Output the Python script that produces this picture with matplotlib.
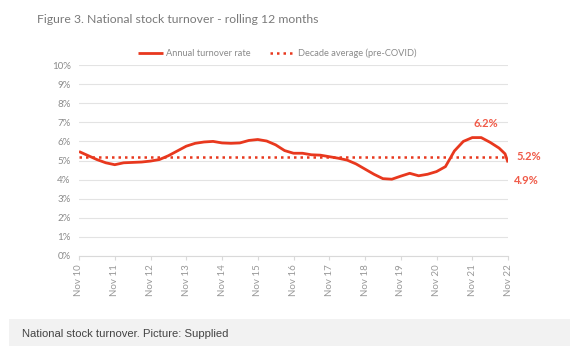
import matplotlib
matplotlib.use("Agg")
import matplotlib.pyplot as plt
from matplotlib.patches import Rectangle

# data: months since Nov 2010, rolling 12-month turnover (%)
months = [0, 3, 6, 9, 12, 15, 18, 21, 24, 27, 30, 33, 36, 39, 42, 45, 48,
          51, 54, 57, 60, 63, 66, 69, 72, 75, 78, 81, 84, 87, 90, 93, 96,
          99, 102, 105, 108, 111, 114, 117, 120, 123, 126, 129, 132, 135,
          138, 141, 143, 144]
turnover = [5.47, 5.26, 5.05, 4.88, 4.78, 4.88, 4.90, 4.92, 4.97, 5.05,
            5.25, 5.50, 5.75, 5.90, 5.97, 6.00, 5.92, 5.90, 5.92, 6.05,
            6.10, 6.02, 5.82, 5.52, 5.38, 5.38, 5.30, 5.28, 5.20, 5.12,
            5.02, 4.82, 4.55, 4.28, 4.05, 4.02, 4.18, 4.33, 4.20, 4.28,
            4.42, 4.68, 5.50, 6.00, 6.20, 6.20, 5.95, 5.65, 5.35, 4.90]
decade_avg = 5.2
tick_labels = ["Nov 10", "Nov 11", "Nov 12", "Nov 13", "Nov 14", "Nov 15",
               "Nov 16", "Nov 17", "Nov 18", "Nov 19", "Nov 20", "Nov 21",
               "Nov 22"]

RED = "#e8381e"
LABEL_RED = "#f05a48"
GREY = "#8a8a8a"

fig = plt.figure(figsize=(5.8, 3.56), dpi=100)
ax = fig.add_axes([0.1362, 0.2809, 0.7397, 0.5365])

ax.plot(months, turnover, color=RED, linewidth=2.0, label="Annual turnover rate",
        solid_capstyle="butt")
ax.plot([months[0], months[-1]], [decade_avg, decade_avg], color=RED,
        linestyle=(0, (1, 1.6)), linewidth=1.8, label="Decade average (pre-COVID)")

ax.set_xlim(0, 144)
ax.set_ylim(0, 10)
ax.set_yticks(range(0, 11))
ax.set_yticklabels([f"{v}%" for v in range(0, 11)])
ax.set_xticks(range(0, 145, 12))
ax.set_xticklabels(tick_labels, rotation=90)
ax.grid(axis="y", color="#e3e3e3", linewidth=0.8)
ax.set_axisbelow(True)
for s in ["top", "right", "left"]:
    ax.spines[s].set_visible(False)
ax.spines["bottom"].set_color("#d9d9d9")
ax.tick_params(axis="y", length=0, labelsize=7, labelcolor=GREY, pad=6)
ax.tick_params(axis="x", length=3, color="#d9d9d9", labelsize=7,
               labelcolor="#999999", pad=3)
for lbl in ax.get_xticklabels() + ax.get_yticklabels():
    lbl.set_family("Lato")

# end-point annotations
ax.text(136.5, 6.2 + 0.45, "6.2%", color=LABEL_RED, fontsize=8,
        fontweight="bold", ha="center", va="bottom", family="Lato")
ax.text(147, decade_avg, "5.2%", color=LABEL_RED, fontsize=8,
        fontweight="bold", ha="left", va="center", family="Lato")
ax.text(146, 4.9 - 0.95, "4.9%", color=LABEL_RED, fontsize=8,
        fontweight="bold", ha="left", va="center", family="Lato")

leg = fig.legend(loc="center", bbox_to_anchor=(0.478, 0.851), ncol=2,
                 frameon=False, handlelength=2.6, columnspacing=2.0,
                 handletextpad=0.4, prop={"family": "Lato", "size": 6.7})
for t in leg.get_texts():
    t.set_color(GREY)

fig.text(0.064, 0.945, "Figure 3. National stock turnover - rolling 12 months",
         fontsize=8.8, color="#7a7a7a", family="Lato", ha="left", va="center")

# caption bar
fig.patches.append(Rectangle((0.0155, 0.0281), 0.967, 0.0758,
                             transform=fig.transFigure, facecolor="#f2f2f2",
                             edgecolor="none", zorder=0))
fig.text(0.038, 0.0618, "National stock turnover. Picture: Supplied",
         fontsize=8.1, color="#444444", family="Liberation Sans",
         ha="left", va="center")

fig.savefig("out.png", dpi=100)
